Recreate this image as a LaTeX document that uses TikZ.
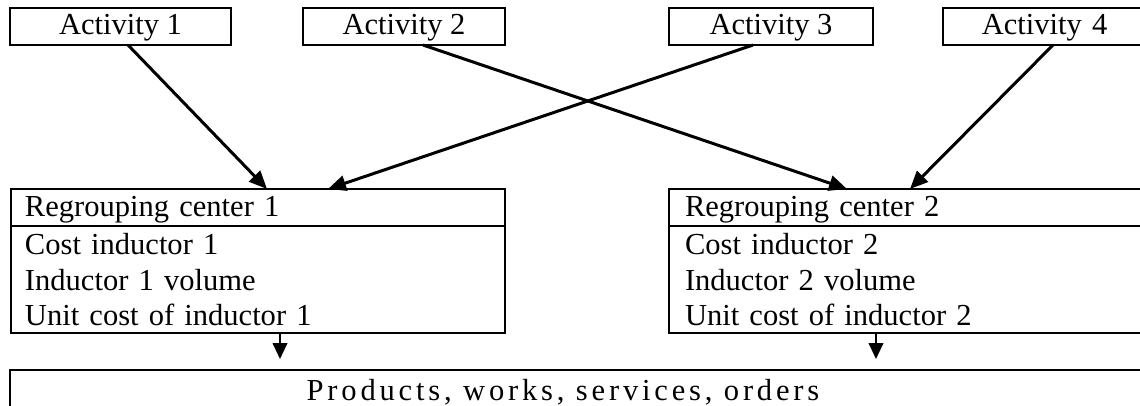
\documentclass[tikz,border=0pt]{standalone}
\usepackage{fontspec}
\setmainfont{Liberation Serif}
\usetikzlibrary{arrows.meta,calc}
\begin{document}
\begin{tikzpicture}[x=0.75pt,y=-0.75pt,
  every node/.style={font=\fontsize{22.9}{26.6}\selectfont},
  box/.style={draw,line width=1.5pt,anchor=north west,inner sep=0pt,outer sep=0pt},
  actbox/.style={box,text height=20.25pt,text depth=7.5pt,align=center},
  hdr/.style={box,inner xsep=10.5pt,align=left,text height=21pt,text depth=6.75pt},
  body/.style={box,inner xsep=10.5pt,align=left,text height=21.75pt,text depth=58.5pt},
  link/.style={line width=2.25pt,-{Triangle[length=13.5pt,width=11.5pt]}},
  down/.style={line width=1.5pt,-{Triangle[length=12pt,width=11pt]}}]
\useasboundingbox (0,0) rectangle (1140,406);
\clip (0,0) rectangle (1140,406);
% activities
\node[actbox,minimum width=165.75pt] (a1) at (10,8) {Activity 1};
\node[actbox,minimum width=151.5pt] (a2) at (303,8) {Activity 2};
\node[actbox,minimum width=153pt] (a3) at (669,8) {Activity 3};
\node[actbox,minimum width=152.25pt,text width=147.75pt] (a4) at (943,8) {Activity 4\hspace*{4.5pt}};
% regrouping centers
\node[hdr,text width=349.5pt] (h1) at (11,189) {Regrouping center 1};
\node[body,text width=349.5pt] (b1) at (11,226) {Cost inductor 1\\Inductor 1 volume\\Unit cost of inductor 1};
\node[hdr,inner xsep=12pt,text width=333.75pt] (h2) at (669,189) {Regrouping center 2};
\node[body,inner xsep=12pt,text width=333.75pt] (b2) at (669,226) {Cost inductor 2\\Inductor 2 volume\\Unit cost of inductor 2};
% products
\node[box,minimum width=852pt,minimum height=45pt] (p) at (10,370) {};
\node[anchor=base,inner sep=0pt] (pt) at (563,400) {\addfontfeature{LetterSpace=12.5}Products, works, services, orders};
% connector points
\coordinate (s1) at ($(a1.south west)+(118,0)$);
\coordinate (s2) at ($(a2.south west)+(120,0)$);
\coordinate (s3) at ($(a3.south west)+(84,0)$);
\coordinate (s4) at ($(a4.south west)+(110,0)$);
\coordinate (t1) at ($(h1.north west)+(256,0)$);
\coordinate (t3) at ($(h1.north west)+(317,0)$);
\coordinate (t2) at ($(h2.north west)+(178,0)$);
\coordinate (t4) at ($(h2.north west)+(241,0)$);
\draw[link] (s1) -- (t1);
\draw[link] (s2) -- (t2);
\draw[link] (s3) -- (t3);
\draw[link] (s4) -- (t4);
\coordinate (d1) at ($(b1.south west)+(269,0)$);
\coordinate (d2) at ($(b2.south west)+(207,0)$);
\draw[down,shorten >=8.25pt] (d1) -- (d1 |- p.north);
\draw[down,shorten >=8.25pt] (d2) -- (d2 |- p.north);
\end{tikzpicture}
\end{document}
